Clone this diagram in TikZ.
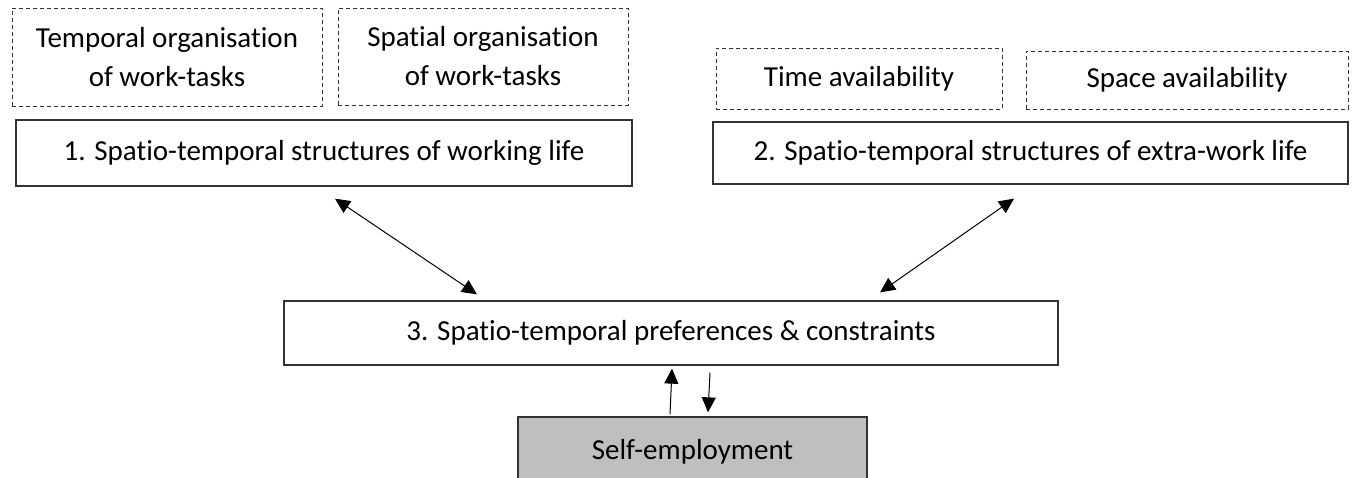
\documentclass[tikz,border=0pt]{standalone}
\usepackage{fontspec}
\setmainfont{Carlito}[Ligatures=NoCommon]
\usepackage{tikz}
\usetikzlibrary{positioning,calc,arrows.meta}

\begin{document}
\begin{tikzpicture}[x=1pt,y=-1pt,
    solidbox/.style={draw=black!80, line width=1.3pt, fill=white, inner sep=0pt, align=center, font=\fontsize{29}{39}\selectfont},
    dashbox/.style={draw=black!80, line width=1pt, dash pattern=on 4pt off 3pt, inner sep=0pt, align=center, font=\fontsize{29}{39}\selectfont},
    twoway/.style={line width=1pt, {Triangle[length=15pt,width=14pt]}-{Triangle[length=15pt,width=14pt]}},
    oneway/.style={line width=1pt, -{Triangle[length=15pt,width=14pt]}}]
    \useasboundingbox (0,0) rectangle (1359,477);

    \node[dashbox, minimum width=310pt, minimum height=98pt] (tempwork) at (167,57) {Temporal organisation\\of work-tasks};
    \node[dashbox, minimum width=290pt, minimum height=97pt] (spatwork) at (483,56.5) {Spatial organisation\\of work-tasks};
    \node[solidbox, minimum width=616pt, minimum height=66pt] (working) at (324,153) {1. Spatio-temporal structures of working life};

    \node[dashbox, minimum width=286pt, minimum height=61pt] (timeavail) at (859,78.5) {Time availability};
    \node[dashbox, minimum width=322pt, minimum height=58pt] (spaceavail) at (1187,80) {Space availability};
    \node[solidbox, minimum width=635pt, minimum height=62pt] (extrawork) at (1030.5,153) {2. Spatio-temporal structures of extra-work life};

    \node[solidbox, minimum width=774pt, minimum height=64pt] (prefs) at (671,333) {3. Spatio-temporal preferences \& constraints};
    \node[solidbox, fill=black!25, minimum width=349pt, minimum height=74pt] (selfemp) at (692.5,454) {\raisebox{10pt}{Self-employment}};

    \draw[twoway] ([shift={(11,12)}]working.south) -- ([shift={(-194,-6)}]prefs.north);
    \draw[twoway] ([shift={(-16.5,14)}]extrawork.south) -- ([shift={(209,-8)}]prefs.north);
    \draw[oneway] ([shift={(-22.5,-2)}]selfemp.north) -- ([shift={(1,3)}]prefs.south);
    \draw[oneway] ([shift={(39,7)}]prefs.south) -- ([shift={(15.5,-4)}]selfemp.north);
\end{tikzpicture}
\end{document}
